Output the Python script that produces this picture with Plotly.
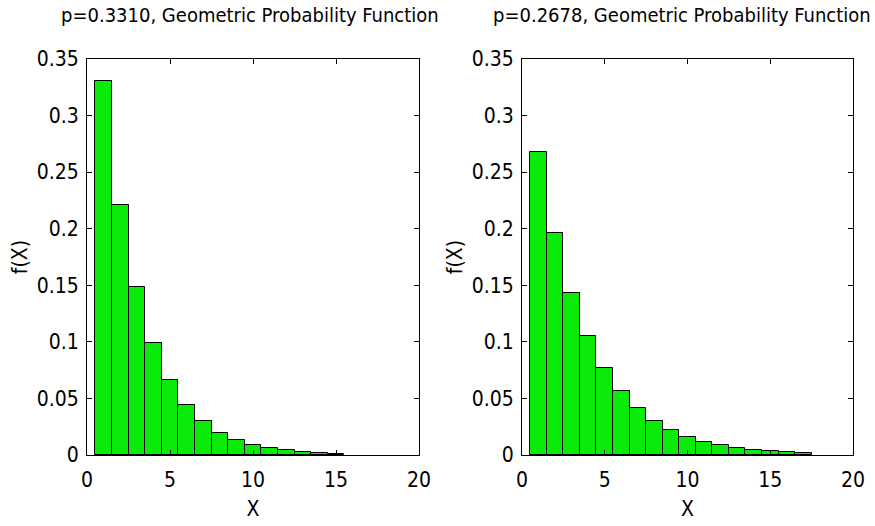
import plotly.graph_objects as go

x_left = list(range(1, 16))
f_left = [0.331, 0.2214, 0.1481, 0.0991, 0.0663, 0.0443, 0.0297, 0.0198,
          0.0133, 0.0089, 0.0059, 0.0040, 0.0027, 0.0018, 0.0012]
x_right = list(range(1, 18))
f_right = [0.2678, 0.1961, 0.1436, 0.1052, 0.0770, 0.0564, 0.0413, 0.0302,
           0.0221, 0.0162, 0.0119, 0.0087, 0.0064, 0.0047, 0.0034, 0.0025, 0.0018]
titles = ["p=0.3310, Geometric Probability Function",
          "p=0.2678, Geometric Probability Function"]
x_ticks = [0, 5, 10, 15, 20]
y_ticks = [0, 0.05, 0.1, 0.15, 0.2, 0.25, 0.3, 0.35]
y_labels = ["0", "0.05", "0.1", "0.15", "0.2", "0.25", "0.3", "0.35"]

FONT = "Liberation Sans Narrow, DejaVu Sans Condensed, Arial Narrow, sans-serif"
W, H = 875, 526
GREEN = "rgb(10,235,10)"
TICK_SIZE = 21
TITLE_SIZE = 20

fig = go.Figure()
fig.add_trace(go.Bar(x=x_left, y=f_left, width=1, marker=dict(color=GREEN, line=dict(color="black", width=1)),
                     xaxis="x", yaxis="y", showlegend=False))
fig.add_trace(go.Bar(x=x_right, y=f_right, width=1, marker=dict(color=GREEN, line=dict(color="black", width=1)),
                     xaxis="x2", yaxis="y2", showlegend=False))

def xax(dom, anchor):
    return dict(domain=dom, anchor=anchor, range=[0, 20], tickvals=x_ticks, automargin=False,
                ticks="inside", ticklen=5, tickcolor="black", showline=True, linecolor="black",
                linewidth=1, mirror="ticks", showgrid=False, zeroline=False, ticklabelstandoff=6,
                tickfont=dict(family=FONT, size=TICK_SIZE, color="black"),
                title=dict(text="X", font=dict(family=FONT, size=TICK_SIZE, color="black"), standoff=10))

def yax(dom, anchor):
    return dict(domain=dom, anchor=anchor, range=[0, 0.35], tickvals=y_ticks, ticktext=y_labels,
                automargin=False, ticks="inside", ticklen=5, tickcolor="black", showline=True,
                linecolor="black", linewidth=1, mirror="ticks", showgrid=False, zeroline=False,
                ticklabelstandoff=3,
                tickfont=dict(family=FONT, size=TICK_SIZE, color="black"),
                title=dict(text="f(X)", font=dict(family=FONT, size=TICK_SIZE, color="black"), standoff=3))

ydom = [1 - 455 / H, 1 - 59 / H]
fig.update_layout(
    width=W, height=H, margin=dict(l=0, r=0, t=0, b=0, autoexpand=False),
    paper_bgcolor="white", plot_bgcolor="white", bargap=0,
    xaxis=xax([87 / W, 419 / W], "y"),
    yaxis=yax(ydom, "x"),
    xaxis2=xax([522 / W, 853 / W], "y2"),
    yaxis2=yax(ydom, "x2"),
    annotations=[
        dict(text=titles[0], x=250 / W, y=1 - 15 / H, xref="paper", yref="paper",
             showarrow=False, font=dict(family=FONT, size=TITLE_SIZE, color="black"),
             xanchor="center", yanchor="middle"),
        dict(text=titles[1], x=682 / W, y=1 - 15 / H, xref="paper", yref="paper",
             showarrow=False, font=dict(family=FONT, size=TITLE_SIZE, color="black"),
             xanchor="center", yanchor="middle"),
    ],
)
fig.write_html("out.html")
